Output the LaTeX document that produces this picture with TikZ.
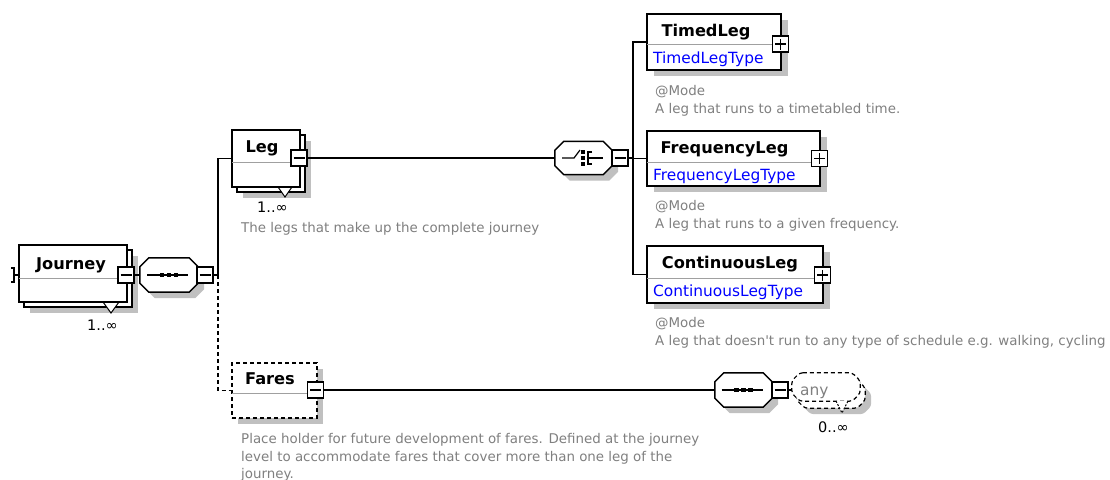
\documentclass[tikz,border=0pt]{standalone}
\usepackage{fontspec}
\setmainfont{DejaVu Sans}[Ligatures=TeXOff]
\usetikzlibrary{calc}

\definecolor{shade}{HTML}{C0C0C0}
\definecolor{notegray}{HTML}{808080}
\definecolor{typeblue}{HTML}{0000FF}
\definecolor{rulegray}{HTML}{A0A0A0}

\newcommand\titlefont{\fontsize{16.2}{19}\selectfont\bfseries}
\newcommand\typefont{\fontsize{15.4}{18}\selectfont}
\newcommand\notefont{\fontsize{13.4}{17.5}\selectfont}
\newcommand\multfont{\fontsize{14.5}{16}\selectfont}

% octagon around a node: #1 node, #2/#3 chamfer (x/y), #4/#5 offset
\newcommand\octpath[5]{%
  ($(#1.north west)+(#2+#4,#5)$) -- ($(#1.north east)+(-#2+#4,#5)$) --
  ($(#1.north east)+(#4,#3+#5)$) -- ($(#1.south east)+(#4,-#3+#5)$) --
  ($(#1.south east)+(-#2+#4,#5)$) -- ($(#1.south west)+(#2+#4,#5)$) --
  ($(#1.south west)+(#4,-#3+#5)$) -- ($(#1.north west)+(#4,#3+#5)$) -- cycle}

% sequence symbol: a line with three dots
\newcommand\seqicon[1]{%
  \draw[line width=1.3pt] ($(#1.center)+(-22,0)$) -- ($(#1.center)+(19,0)$);
  \foreach \dx in {-7,0,7}{\fill ($(#1.center)+(\dx-2.2,-2.2)$) rectangle ++(4.4,4.4);}}

% choice symbol: switch, three dots and a fork
\newcommand\choiceicon[1]{%
  \draw[line width=1.2pt] ($(#1.center)+(-21.5,0)$) -- ($(#1.center)+(-9.5,0)$) -- ($(#1.center)+(-3.5,-8)$);
  \foreach \dy in {-6,0,6}{\fill ($(#1.center)+(-2.2,\dy-1.8)$) rectangle ++(3.6,3.6);}
  \draw[line width=1.2pt] ($(#1.center)+(8.5,-6)$) -- ($(#1.center)+(4.5,-6)$) -- ($(#1.center)+(4.5,6)$) -- ($(#1.center)+(8.5,6)$);
  \draw[line width=1.2pt] ($(#1.center)+(4.5,0)$) -- ($(#1.center)+(19.5,0)$);}

\begin{document}
\begin{tikzpicture}[x=1pt,y=-1pt,
  box/.style={draw=black, line width=1.5pt, fill=white, inner sep=0pt},
  dbox/.style={box, dash pattern=on 4pt off 3pt},
  ghost/.style={draw=none, inner sep=0pt},
  conn/.style={line width=1.4pt},
  shadow/.style={fill=shade, draw=none},
  divider/.style={draw=rulegray, line width=1pt},
  minusbox/.style={draw, line width=1.3pt, fill=white, minimum size=16pt, inner sep=0pt,
    path picture={\draw[line width=1.3pt] ([xshift=-5.5pt]path picture bounding box.center) -- ([xshift=5.5pt]path picture bounding box.center);}},
  plusbox/.style={draw, line width=1.3pt, fill=white, minimum size=16pt, inner sep=0pt,
    path picture={\draw[line width=1.3pt] ([xshift=-5.5pt]path picture bounding box.center) -- ([xshift=5.5pt]path picture bounding box.center)
      ([yshift=-5.5pt]path picture bounding box.center) -- ([yshift=5.5pt]path picture bounding box.center);}},
  title/.style={font=\titlefont, inner sep=0pt, anchor=base},
  typename/.style={font=\typefont, text=typeblue, inner sep=0pt, anchor=base west},
  note/.style={font=\notefont, text=notegray, inner sep=0pt, anchor=base west},
  mult/.style={font=\multfont, inner sep=0pt, anchor=base west},
  tri/.style={fill=white, line width=1pt}
]
\useasboundingbox[fill=white] (0,0) rectangle (1110,479);

% ---------- Journey (repeating element) ----------
\fill[shadow] (30,256) rectangle (138,313);
\draw[box] (24,250) rectangle (132,307);
\filldraw[tri] (103,302) -- (111,313) -- (119,302);
\node[box, minimum width=108pt, minimum height=57pt] (journey) at (73,273.5) {};
\draw[divider] (19,278) -- (118,278);
\node[title] (journeyT) at (71,269) {Journey};
\node[minusbox] (journeyM) at (126,275) {};
\node[mult] (journeyN) at (87,330) {1..∞};
\coordinate (jin) at (14,275);
\draw[line width=1.2pt] (11,268) -- (14,268) -- (14,282) -- (11,282);
\draw[conn] (jin) -- (jin -| journey.west);

% ---------- sequence under Journey ----------
\node[ghost, minimum width=58pt, minimum height=34pt] (seqA) at (169,275) {};
\fill[shadow] \octpath{seqA}{9}{9}{6}{6};
\draw[box] \octpath{seqA}{9}{9}{0}{0};
\seqicon{seqA}
\node[minusbox] (seqAM) at (205,275) {};
\draw[conn] (journeyM.east) -- (seqA.west);

\coordinate (jA) at (218,275);
\draw[conn] (seqAM.east) -- (jA);

% ---------- Leg (repeating element) ----------
\fill[shadow] (243,141) rectangle (311,198);
\draw[box] (237,135) rectangle (305,192);
\filldraw[tri] (278,187) -- (285,197) -- (292,187);
\node[box, minimum width=68pt, minimum height=57pt] (leg) at (266,158.5) {};
\draw[divider] (232,162) -- (291,162);
\node[title] (legT) at (262,152) {Leg};
\node[minusbox] (legM) at (299,158) {};
\node[mult] (legN) at (257,212) {1..∞};
\node[note] (legD) at (241,232) {The legs that make up the complete journey};
\draw[conn] (jA) |- (leg.west);

% ---------- Fares (optional element) ----------
\fill[shadow] (238,369) rectangle (323,424);
\node[dbox, minimum width=85pt, minimum height=55pt] (fares) at (274.5,390.5) {};
\draw[divider] (232,393) -- (307,393);
\node[title] (faresT) at (270,384) {Fares};
\node[minusbox] (faresM) at (315.5,390) {};
\node[note] (faresD1) at (241,443) {Place holder for future development of fares. Defined at the journey};
\node[note] (faresD2) at (241,461) {level to accommodate fares that cover more than one leg of the};
\node[note] (faresD3) at (241,478) {journey.};
\draw[conn, dash pattern=on 4pt off 3pt] (jA) |- (fares.west);

% ---------- choice under Leg ----------
\node[ghost, minimum width=57pt, minimum height=33pt] (choice) at (583.5,158) {};
\fill[shadow] \octpath{choice}{9}{9}{6}{6};
\draw[box] \octpath{choice}{9}{9}{0}{0};
\choiceicon{choice}
\node[minusbox] (choiceM) at (620,158) {};
\draw[conn] (legM.east) -- (choice.west);
\coordinate (jB) at (633,158);
\draw[conn] (choiceM.east) -- (jB);

% ---------- TimedLeg ----------
\fill[shadow] (654,20) rectangle (788,76);
\node[box, minimum width=134pt, minimum height=56pt] (timed) at (714,42) {};
\draw[divider] (647,44) -- (772,44);
\node[title] (timedT) at (706,36) {TimedLeg};
\node[typename] (timedY) at (653,63) {TimedLegType};
\node[plusbox] (timedP) at (780.5,44) {};
\node[note] (timedD1) at (655,95) {@Mode};
\node[note] (timedD2) at (655,113) {A leg that runs to a timetabled time.};

% ---------- FrequencyLeg ----------
\fill[shadow] (654,137) rectangle (827,192);
\node[box, minimum width=173pt, minimum height=55pt] (freq) at (733.5,158.5) {};
\draw[divider] (647,162) -- (812,162);
\node[title] (freqT) at (724.5,153) {FrequencyLeg};
\node[typename] (freqY) at (653,180) {FrequencyLegType};
\node[plusbox] (freqP) at (819.5,158.5) {};
\node[note] (freqD1) at (655,210) {@Mode};
\node[note] (freqD2) at (655,228) {A leg that runs to a given frequency.};

% ---------- ContinuousLeg ----------
\fill[shadow] (654,252) rectangle (830,309);
\node[box, minimum width=176pt, minimum height=57pt] (cont) at (735,274.5) {};
\draw[divider] (647,278) -- (815,278);
\node[title] (contT) at (730,268) {ContinuousLeg};
\node[typename] (contY) at (653,296) {ContinuousLegType};
\node[plusbox] (contP) at (822.5,275) {};
\node[note] (contD1) at (655,327) {@Mode};
\node[note] (contD2) at (655,345) {A leg that doesn't run to any type of schedule e.g. walking, cycling};

\draw[conn] (timed.west) -| (jB) |- (cont.west);
\draw[conn] (jB) |- (freq.west);

% ---------- sequence under Fares ----------
\node[ghost, minimum width=57pt, minimum height=34pt] (seqB) at (743.5,390) {};
\fill[shadow] \octpath{seqB}{9}{9}{6}{6};
\draw[box] \octpath{seqB}{9}{9}{0}{0};
\seqicon{seqB}
\node[minusbox] (seqBM) at (780,390) {};
\draw[conn] (faresM.east) -- (seqB.west);

% ---------- any (repeating wildcard) ----------
\node[ghost, minimum width=68pt, minimum height=28pt] (anyel) at (826,387) {};
\fill[shadow, rounded corners=3pt] \octpath{anyel}{8}{8}{11}{13};
\draw[dbox, line width=1.2pt, rounded corners=3pt] \octpath{anyel}{8}{8}{5}{7};
\draw[dbox, line width=1.2pt, rounded corners=3pt] \octpath{anyel}{8}{8}{0}{0};
\filldraw[tri, dash pattern=on 2pt off 1.5pt] (836,401) -- (842,413) -- (848,401);
\node[font=\typefont, text=notegray, inner sep=0pt, anchor=base west] (anyT) at (800,395) {any};
\node[mult] (anyN) at (818,432) {0..∞};
\draw[conn] (seqBM.east) -- (seqBM.east -| anyel.west);
\end{tikzpicture}
\end{document}
